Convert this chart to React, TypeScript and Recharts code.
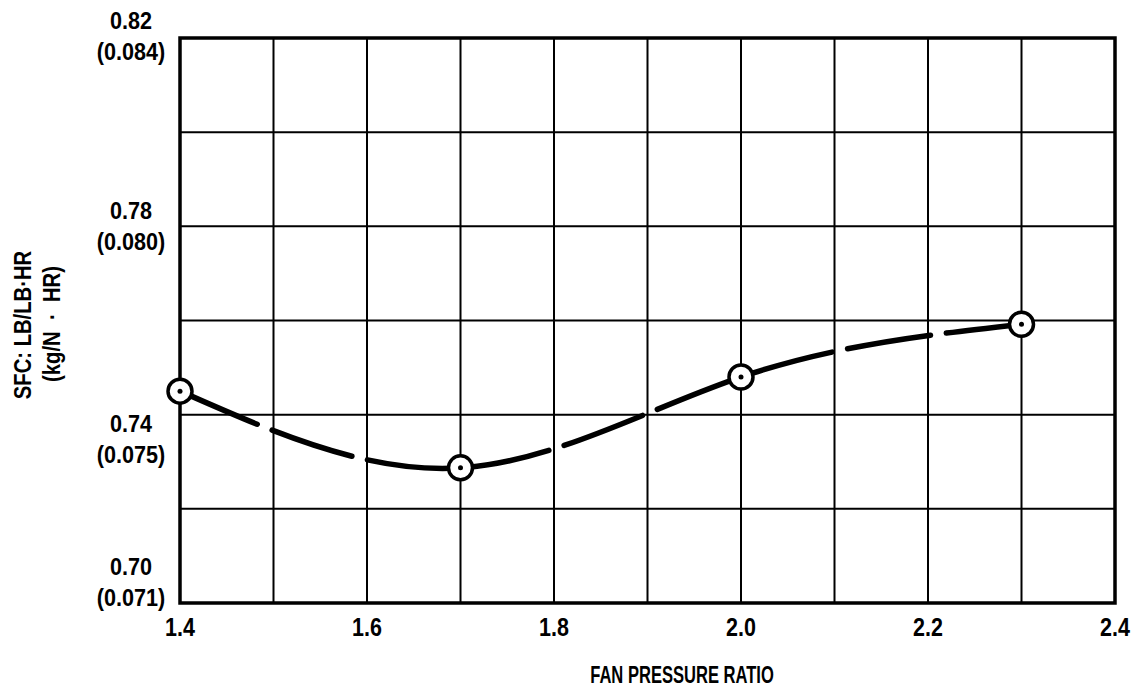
import { CartesianGrid, Line, LineChart, ReferenceArea, XAxis, YAxis } from "recharts";

const FONT = "'Liberation Sans', Arial, sans-serif";

const fanPressureRatio = [1.4, 1.7, 2.0, 2.3];
const sfc = [0.745, 0.7287, 0.748, 0.7592];

const xTicks = [1.4, 1.5, 1.6, 1.7, 1.8, 1.9, 2.0, 2.1, 2.2, 2.3, 2.4];
const xTickLabels = ["1.4", "", "1.6", "", "1.8", "", "2.0", "", "2.2", "", "2.4"];
const yTicks = [0.7, 0.72, 0.74, 0.76, 0.78, 0.8, 0.82];
const yTickLabels = ["0.70", "", "0.74", "", "0.78", "", "0.82"];
const yTickMetric = ["(0.071)", "", "(0.075)", "", "(0.080)", "", "(0.084)"];

const data = fanPressureRatio.map((x, i) => ({ x, sfc: sfc[i] }));

// the original labels were placed by hand, not all centred on their line
const yLabelShift: Record<string, number> = { "0.70": -21, "0.74": 24, "0.78": -1, "0.82": -2 };

// condensed lettering: squeeze a normal bold face sideways
function Cond({ x, y, size, sx = 0.88, rotate = 0, children }: any) {
  return (
    <text
      transform={`translate(${x}, ${y}) rotate(${rotate}) scale(${sx}, 1)`}
      textAnchor="middle"
      dominantBaseline="central"
      fontFamily={FONT}
      fontWeight="bold"
      fontSize={size}
      fill="#000"
    >
      {children}
    </text>
  );
}

function YTick(props: any) {
  const { y, index } = props;
  const main = yTickLabels[index];
  if (!main) return null;
  const s = yLabelShift[main] ?? 0;
  return (
    <g>
      <Cond x={131} y={y + s - 15} size={24} sx={0.9}>{main}</Cond>
      <Cond x={131} y={y + s + 16} size={24} sx={0.9}>{yTickMetric[index]}</Cond>
    </g>
  );
}

function XTick(props: any) {
  const { x, index } = props;
  return <Cond x={x} y={627} size={25} sx={0.86}>{xTickLabels[index]}</Cond>;
}

function Marker(props: any) {
  const { cx, cy, index } = props;
  return (
    <g key={`m-${index}`}>
      <circle cx={cx} cy={cy} r={12} fill="#fff" stroke="#000" strokeWidth={3.5} />
      <circle cx={cx} cy={cy} r={2.5} fill="#000" />
    </g>
  );
}

function YTitle() {
  return (
    <g>
      <Cond x={23} y={325} size={23} sx={0.88} rotate={-90}>SFC: LB/LB·HR</Cond>
      <Cond x={52} y={324} size={23} sx={0.88} rotate={-90}>{"(kg/N\u00a0 · \u00a0HR)"}</Cond>
    </g>
  );
}

function XTitle() {
  return <Cond x={682} y={674} size={24} sx={0.69}>FAN PRESSURE RATIO</Cond>;
}

export default function App() {
  return (
    <div style={{ position: "absolute", left: 0, top: 0, width: 1142, height: 686, background: "#fff" }}>
      <LineChart width={1142} height={686} data={data} margin={{ top: 38, right: 27, bottom: 0, left: 0 }}>
        <CartesianGrid stroke="#000" strokeWidth={2} strokeOpacity={1} horizontalValues={yTicks} verticalValues={xTicks} />
        <XAxis
          type="number"
          dataKey="x"
          domain={[1.4, 2.4]}
          ticks={xTicks}
          interval={0}
          axisLine={false}
          tickLine={false}
          tick={<XTick />}
          height={83}
          label={{ content: <XTitle /> }}
        />
        <YAxis
          type="number"
          domain={[0.7, 0.82]}
          ticks={yTicks}
          interval={0}
          axisLine={false}
          tickLine={false}
          tick={<YTick />}
          width={180}
          label={{ content: <YTitle /> }}
        />
        <ReferenceArea x1={1.4} x2={2.4} y1={0.7} y2={0.82} fill="none" stroke="#000" strokeWidth={3.5} />
        <Line
          type="natural"
          dataKey="sfc"
          stroke="#000"
          strokeWidth={5.5}
          strokeDasharray="84 16"
          strokeLinecap="round"
          dot={<Marker />}
          activeDot={false}
          isAnimationActive={false}
        />
      </LineChart>
    </div>
  );
}
